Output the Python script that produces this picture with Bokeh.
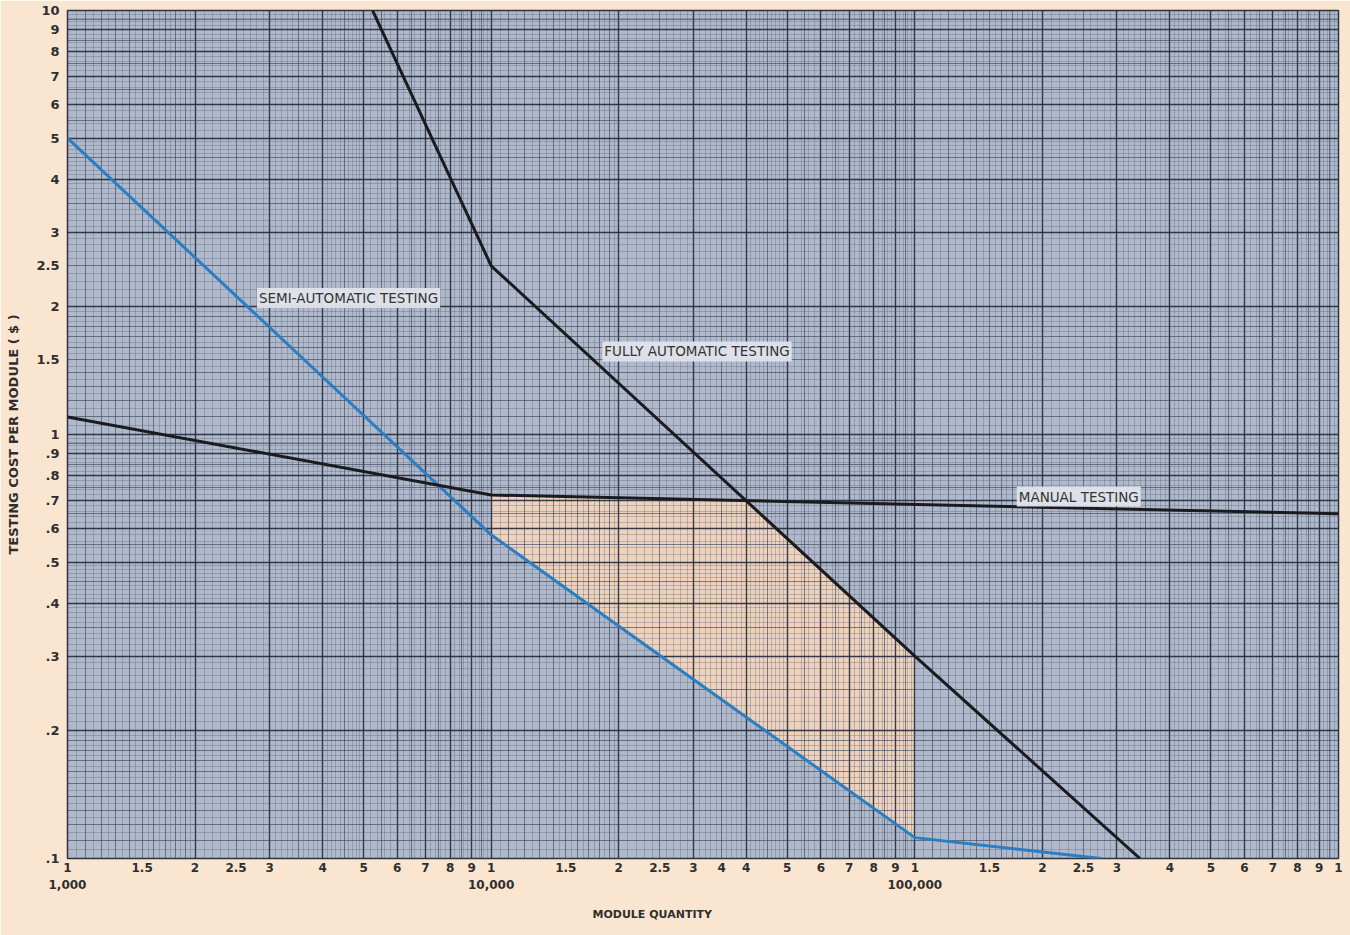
import numpy as np
from bokeh.plotting import figure
from bokeh.models import Range1d, FixedTicker, Grid, Label, LogAxis, Title
from bokeh.embed import file_html
from bokeh.resources import INLINE

# ---------------- data ----------------
semi_x = [1000, 10000, 100000, 275000]
semi_y = [5.0, 0.58, 0.112, 0.1]

full_x = [5250, 10000, 100000, 340000]
full_y = [10.0, 2.5, 0.3, 0.1]

manual_x = [1000, 10000, 1000000]
manual_y = [1.1, 0.72, 0.65]

shade_range = [10000, 100000]

x_ticks = [1000, 1500, 2000, 2500, 3000, 4000, 5000, 6000, 7000, 8000, 9000,
           10000, 15000, 20000, 25000, 30000, 35000, 40000, 50000, 60000, 70000, 80000, 90000,
           100000, 150000, 200000, 250000, 300000, 400000, 500000, 600000, 700000, 800000, 900000,
           1000000]
x_labels = ["1", "1.5", "2", "2.5", "3", "4", "5", "6", "7", "8", "9",
            "1", "1.5", "2", "2.5", "3", "4", "4", "5", "6", "7", "8", "9",
            "1", "1.5", "2", "2.5", "3", "4", "5", "6", "7", "8", "9",
            "1"]
x_decade_ticks = [1000, 10000, 100000]
x_decade_labels = ["1,000", "10,000", "100,000"]

y_ticks = [0.1, 0.2, 0.3, 0.4, 0.5, 0.6, 0.7, 0.8, 0.9, 1, 1.5, 2, 2.5, 3, 4, 5, 6, 7, 8, 9, 10]
y_labels = [".1", ".2", ".3", ".4", ".5", ".6", ".7", ".8", ".9", "1", "1.5", "2", "2.5",
            "3", "4", "5", "6", "7", "8", "9", "10"]

label_texts = ["SEMI-AUTOMATIC TESTING", "FULLY AUTOMATIC TESTING", "MANUAL TESTING"]
label_x = [2800, 18300, 174000]
label_y = [2.1, 1.57, 0.714]

x_title = "MODULE QUANTITY"
y_title = "TESTING COST PER MODULE ( $ )"

# ---------------- figure ----------------
BG = "#b0b9cb"
PAPER = "#fae6d0"
TXT = "#2e2e2e"
FONT = "DejaVu Sans"

p = figure(width=1350, height=935, x_axis_type="log", y_axis_type="log",
           x_range=Range1d(1000, 1000000), y_range=Range1d(0.1, 10),
           output_backend="svg", toolbar_location=None,
           min_border_left=67, min_border_right=12, min_border_top=10, min_border_bottom=77,
           background_fill_color=BG, border_fill_color=PAPER,
           outline_line_color="#2b3345", outline_line_width=1.5)
p.grid.visible = False


def decade_lines(lo_exp, hi_exp):
    major, medium, fine = [], [], []
    for e in range(lo_exp, hi_exp):
        d = 10.0 ** e
        for k in range(1, 11):
            major.append(k * d)
        for v in np.arange(1.1, 2.0, 0.1):
            medium.append(round(v, 2) * d)
        for v in [2.5, 3.5, 4.5, 5.5, 6.5, 7.5, 8.5, 9.5]:
            medium.append(v * d)
        for v in np.arange(1.05, 2.0, 0.1):
            fine.append(round(v, 3) * d)
        for v in np.arange(2.1, 5.0, 0.1):
            r = round(v, 2)
            if abs(r * 2 - round(r * 2)) > 1e-6:
                fine.append(r * d)
        for v in np.arange(5.2, 10.0, 0.2):
            r = round(v, 2)
            if abs(r * 2 - round(r * 2)) > 1e-6:
                fine.append(r * d)
    return major, medium, fine


xmaj, xmed, xfine = decade_lines(3, 6)
ymaj, ymed, yfine = decade_lines(-1, 1)

for dim, (maj, med, fin) in [(0, (xmaj, xmed, xfine)), (1, (ymaj, ymed, yfine))]:
    p.add_layout(Grid(dimension=dim, ticker=FixedTicker(ticks=fin),
                      grid_line_color="#4a5468", grid_line_alpha=0.5, grid_line_width=0.6))
    p.add_layout(Grid(dimension=dim, ticker=FixedTicker(ticks=med),
                      grid_line_color="#39425a", grid_line_alpha=0.7, grid_line_width=0.9))
    p.add_layout(Grid(dimension=dim, ticker=FixedTicker(ticks=maj),
                      grid_line_color="#222a3a", grid_line_alpha=0.9, grid_line_width=1.4))


# ---------------- shaded region ----------------
def loginterp(xq, xs, ys):
    return 10 ** np.interp(np.log10(xq), np.log10(xs), np.log10(ys))


xs = np.logspace(np.log10(shade_range[0]), np.log10(shade_range[1]), 300)
top = np.minimum(loginterp(xs, manual_x, manual_y), loginterp(xs, full_x, full_y))
bot = loginterp(xs, semi_x, semi_y)
px = np.concatenate([xs, xs[::-1]])
py = np.concatenate([top, bot[::-1]])
p.patch(px, py, fill_color="#f0d3bd", fill_alpha=0.95, line_color=None, level="image")

# ---------------- lines ----------------
p.line(semi_x, semi_y, line_color="#2b7ec2", line_width=3)
p.line(full_x, full_y, line_color="#1b1b1f", line_width=3)
p.line(manual_x, manual_y, line_color="#1b1b1f", line_width=3)

for t, lx, ly in zip(label_texts, label_x, label_y):
    p.add_layout(Label(x=lx, y=ly, text=t, text_font=FONT, text_font_size="13.5px",
                       text_color="#333333", text_baseline="middle", text_align="left",
                       background_fill_color="#e0e3ea", background_fill_alpha=0.95,
                       padding=2))

# ---------------- axes ----------------
xa = p.xaxis[0]
xa.ticker = FixedTicker(ticks=x_ticks)
xa.major_label_overrides = {t: l for t, l in zip(x_ticks, x_labels)}
ya = p.yaxis[0]
ya.ticker = FixedTicker(ticks=y_ticks)
ya.major_label_overrides = {t: l for t, l in zip(y_ticks, y_labels)}

for ax in (xa, ya):
    ax.axis_line_color = None
    ax.major_tick_line_color = None
    ax.minor_tick_line_color = None
    ax.major_tick_out = 0
    ax.major_tick_in = 0
    ax.minor_tick_out = 0
    ax.minor_tick_in = 0
    ax.major_label_text_font = FONT
    ax.major_label_text_color = TXT
    ax.major_label_text_font_style = "bold"
    ax.major_label_text_font_size = "12px"

xa.major_label_standoff = 4
ya.major_label_standoff = 8
ya.major_label_text_font_size = "13px"
ya.axis_label = y_title
ya.axis_label_text_font = FONT
ya.axis_label_text_font_size = "13px"
ya.axis_label_text_font_style = "bold"
ya.axis_label_text_color = TXT
ya.axis_label_standoff = 12

xa2 = LogAxis(ticker=FixedTicker(ticks=x_decade_ticks),
              major_label_overrides={t: l for t, l in zip(x_decade_ticks, x_decade_labels)},
              axis_line_color=None, major_tick_line_color=None, minor_tick_line_color=None,
              major_tick_out=0, major_tick_in=0, minor_tick_out=0, minor_tick_in=0,
              major_label_text_font=FONT, major_label_text_color=TXT,
              major_label_text_font_style="bold", major_label_text_font_size="12px",
              major_label_standoff=5)
p.add_layout(xa2, "below")

p.add_layout(Title(text=x_title, align="left", offset=525, text_font=FONT,
                   text_font_size="11px", text_font_style="bold", text_color=TXT,
                   standoff=28), "below")

open("out.html", "w").write(file_html(p, INLINE))
